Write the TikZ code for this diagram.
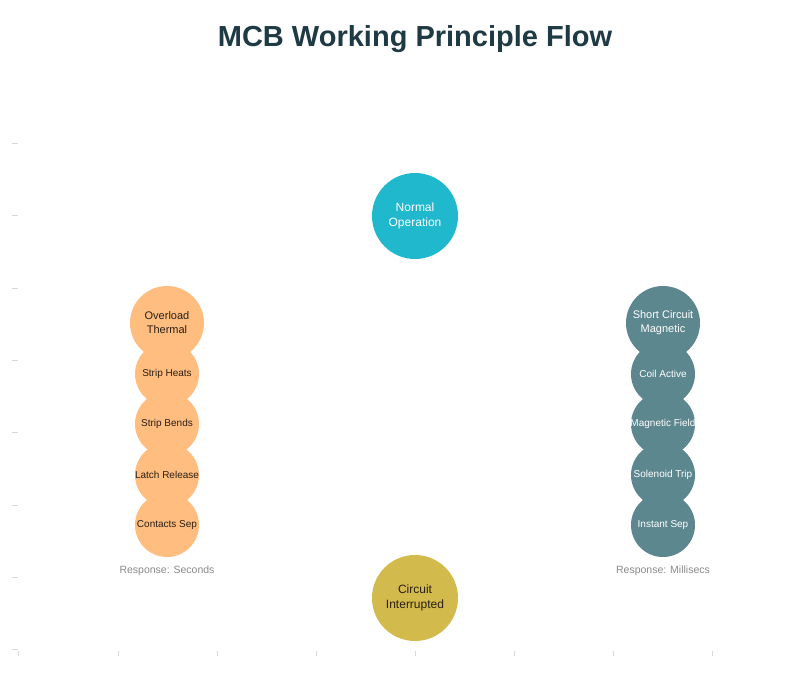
\documentclass[tikz,border=0pt]{standalone}
\usepackage{fontspec}
\setmainfont{Liberation Sans}
\newcommand{\zl}[1]{\makebox[0pt][c]{#1}}
\begin{document}
\begin{tikzpicture}[x=1pt,y=-1pt,
  bub/.style={circle,inner sep=0pt,align=center,font=\fontsize{10}{13}\selectfont},
  big/.style={bub,minimum size=86pt,font=\fontsize{12}{15}\selectfont},
  head/.style={bub,minimum size=74pt,font=\fontsize{11}{14}\selectfont},
  small/.style={bub,minimum size=64pt},
  thermal/.style={fill=thermcol,text=thermtext},
  magnet/.style={fill=magcol,text=white},
  resp/.style={text=respcol,font=\fontsize{10.5}{12}\selectfont},
  tick/.style={draw=tickcol,line width=0.6pt}]
\definecolor{thermcol}{HTML}{FFBD80}
\definecolor{thermtext}{HTML}{2A1E14}
\definecolor{magcol}{HTML}{5D878F}
\definecolor{normcol}{HTML}{1FB8CD}
\definecolor{intcol}{HTML}{D2BA4C}
\definecolor{titlecol}{HTML}{1E3A44}
\definecolor{respcol}{HTML}{8A8A8A}
\definecolor{tickcol}{HTML}{D8D8D8}
\useasboundingbox[fill=white] (0,0) rectangle (800,696);
% axis ticks
\foreach \y in {143,215,288,360,432,505,577,649} \draw[tick] (12,\y) -- (18,\y);
\foreach \x in {18,118,217,316,415,514,613,712} \draw[tick] (\x,651) -- (\x,656);
% title
\node[text=titlecol,font=\fontsize{29}{33}\selectfont\bfseries] (title) at (415,39) {MCB Working Principle Flow};
% central
\node[big,fill=normcol,text=white] (normal) at (415,216) {\zl{Normal}\\\zl{Operation}};
\node[big,fill=intcol,text=thermtext] (interrupt) at (415,598) {\zl{Circuit}\\\zl{Interrupted}};
% thermal column (drawn bottom to top so upper circles overlap)
\node[small,thermal] (t5) at (167,525) {\zl{Contacts Sep}};
\node[small,thermal] (t4) at (167,475) {\zl{Latch Release}};
\node[small,thermal] (t3) at (167,424) {\zl{Strip Bends}};
\node[small,thermal] (t2) at (167,374) {\zl{Strip Heats}};
\node[head,thermal] (t1) at (167,323) {\zl{Overload}\\\zl{Thermal}};
% magnetic column
\node[small,magnet] (m5) at (663,525) {\zl{Instant Sep}};
\node[small,magnet] (m4) at (663,475) {\zl{Solenoid Trip}};
\node[small,magnet] (m3) at (663,424) {\zl{Magnetic Field}};
\node[small,magnet] (m2) at (663,374) {\zl{Coil Active}};
\node[head,magnet] (m1) at (663,323) {\zl{Short Circuit}\\\zl{Magnetic}};
% response labels
\node[resp] (rs) at (167,571) {Response: Seconds};
\node[resp] (rm) at (663,571) {Response: Millisecs};
\end{tikzpicture}
\end{document}
